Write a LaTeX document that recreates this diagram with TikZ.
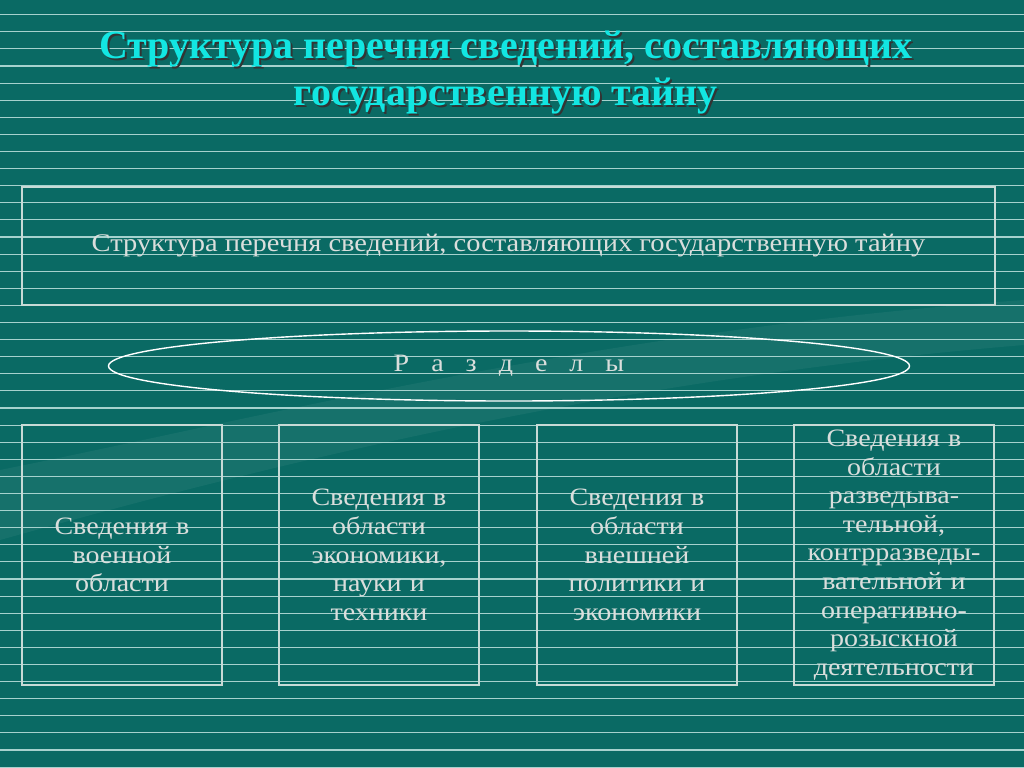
\documentclass[tikz,border=0pt]{standalone}
\usepackage{fontspec}
\setmainfont{Liberation Serif}
\newfontfamily\bodyfont[FakeStretch=1.12]{Liberation Serif}
\usetikzlibrary{positioning,shapes.geometric}

\definecolor{bgteal}{HTML}{0A6A64}
\definecolor{stripe}{HTML}{A6D2CE}
\definecolor{titlecyan}{HTML}{12E6E2}
\definecolor{boxline}{HTML}{C8DAD6}
\definecolor{txtgray}{HTML}{DADEDC}

\tikzset{
  titletext/.style={font=\bfseries\fontsize{20}{23.5}\selectfont, align=center},
  sectbox/.style={draw=boxline, line width=1pt, minimum width=100pt, minimum height=130pt,
    inner sep=0pt, text width=98pt, align=center, text=txtgray,
    font=\bodyfont\fontsize{12.5}{14.3}\selectfont},
}

\begin{document}
\begin{tikzpicture}[x=0.5pt, y=-0.5pt]

        % background
        \fill[bgteal] (0,0) rectangle (1024,767);
        \useasboundingbox (0,0) rectangle (1024,767);
        \fill[white, opacity=0.05] (0,470) .. controls (250,420) and (600,330) .. (1024,300)
              -- (1024,345) .. controls (600,380) and (250,470) .. (0,540) -- cycle;

        % stripes
        \foreach \k in {0,...,44}
            \draw[stripe, line width=0.55pt] (0,14.7+17.1*\k) -- (1024,14.7+17.1*\k);

        % title with shadow
        \node[titletext, text=black!80] (shadow) at (508,75) {Структура перечня сведений, составляющих\\государственную тайну};
        \node[titletext, text=titlecyan] (title) at (506,73) {Структура перечня сведений, составляющих\\государственную тайну};

        % main box
        \node[draw=boxline, line width=1pt, minimum width=486.5pt, minimum height=59pt,
              text=txtgray, font=\bodyfont\fontsize{12.7}{15}\selectfont] (main) at (508.5,246)
              {Структура перечня сведений, составляющих государственную тайну};

        % sections ellipse
        \node[ellipse, draw=white, line width=0.7pt, minimum width=400.5pt, minimum height=35pt,
              inner sep=0pt, text=txtgray, font=\bodyfont\fontsize{12.5}{15}\selectfont] (razd) at (509,366)
              {Р\hspace{11pt}а\hspace{11pt}з\hspace{11pt}д\hspace{11pt}е\hspace{11pt}л\hspace{11pt}ы};

        % four boxes
        \node[sectbox] (mil) at (122,555) {Сведения в\\военной\\области};
        \node[sectbox] (econ) at (379,555) {Сведения в\\области\\экономики,\\науки и\\техники};
        \node[sectbox] (pol) at (637,555) {Сведения в\\области\\внешней\\политики и\\экономики};
        \node[sectbox] (intel) at (894,555) {Сведения в\\области\\разведыва-\\тельной,\\контрразведы-\\вательной и\\оперативно-\\розыскной\\деятельности};

    \end{tikzpicture}
\end{document}
